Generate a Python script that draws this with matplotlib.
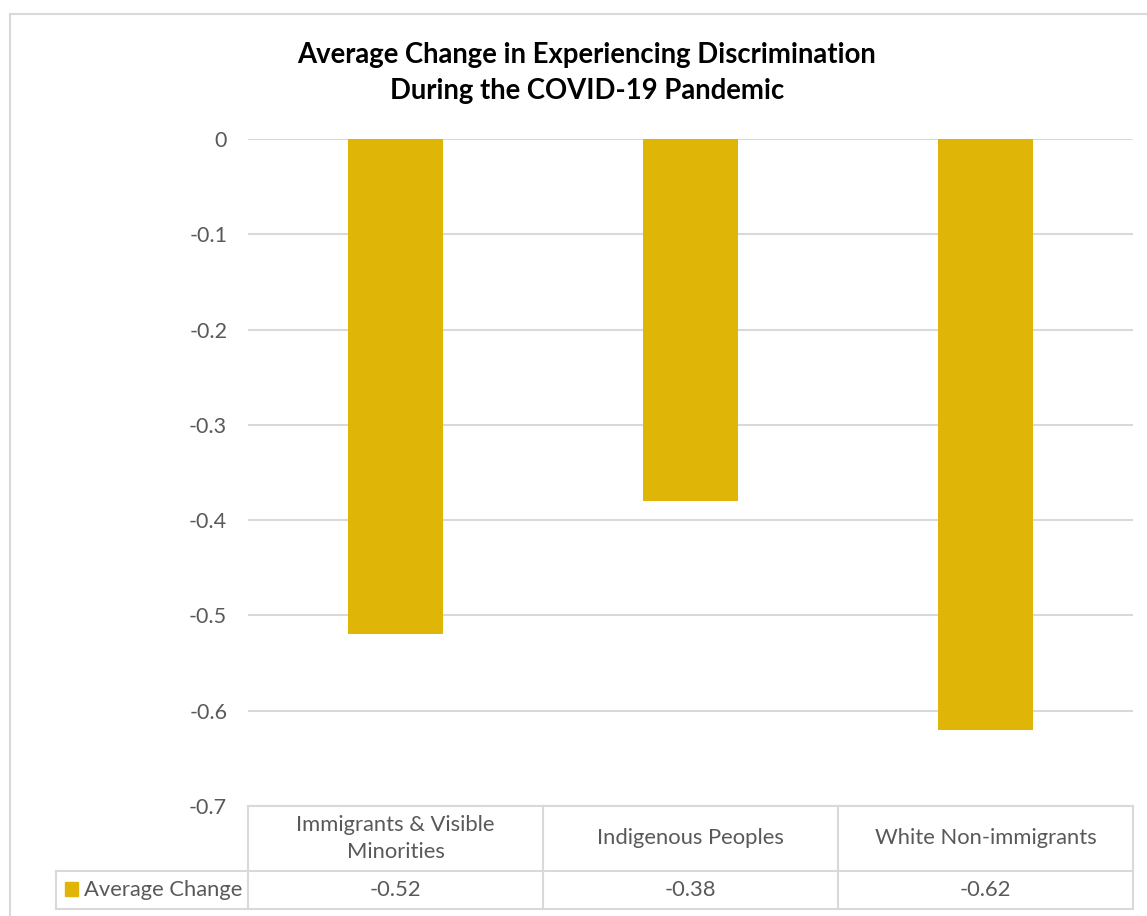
import matplotlib.pyplot as plt
from matplotlib.lines import Line2D
from matplotlib.patches import Rectangle

categories = ["Immigrants & Visible\nMinorities", "Indigenous Peoples", "White Non-immigrants"]
avg_change = [-0.52, -0.38, -0.62]
value_labels = ["-0.52", "-0.38", "-0.62"]
series_name = "Average Change"
y_ticks = [0, -0.1, -0.2, -0.3, -0.4, -0.5, -0.6, -0.7]
title = "Average Change in Experiencing Discrimination\nDuring the COVID-19 Pandemic"

BAR = "#DFB507"
GRID = "#D9D9D9"
TEXT = "#595959"
W, H = 1147, 916

plt.rcParams["font.family"] = ["Lato", "DejaVu Sans"]

fig = plt.figure(figsize=(W / 100, H / 100), dpi=100)


def fx(px):
    return px / W


def fy(py):
    return 1 - py / H


# chart frame (only left and top edges fall inside the canvas)
fig.add_artist(Line2D([fx(10), fx(10)], [fy(14), 0], color=GRID, lw=1.5))
fig.add_artist(Line2D([fx(10), 1], [fy(14), fy(14)], color=GRID, lw=1.5))

fig.text(fx(587), fy(73), title, ha="center", va="center",
         fontsize=19.8, fontweight="bold", color="black", linespacing=1.5)

# main bar axes
ax = fig.add_axes([fx(248), fy(806), fx(1133) - fx(248), fy(139) - fy(806)])
x = range(len(categories))
ax.bar(x, avg_change, width=0.32, color=BAR, zorder=3)
ax.set_xlim(-0.5, len(categories) - 0.5)
ax.set_ylim(-0.7, 0)
ax.set_yticks(y_ticks)
ax.set_yticklabels([f"{t:g}" for t in y_ticks])
ax.set_xticks([])
for s in ax.spines.values():
    s.set_visible(False)
ax.tick_params(axis="y", length=0, pad=15, labelsize=15.5, labelcolor=TEXT)
ax.yaxis.grid(True, color=GRID, lw=1.5, zorder=0)

# data table under the plot
tab = fig.add_axes([fx(248), fy(909), fx(1133) - fx(248), fy(806) - fy(909)])
tab.set_xlim(-0.5, len(categories) - 0.5)
tab.set_ylim(0, 103)
tab.axis("off")
label_left = (56 - 248) / 885
row_split = 38

line_kw = dict(color=GRID, lw=1.5, clip_on=False)
tab.plot([-0.5, len(categories) - 0.5], [103, 103], **line_kw)
for yy in (row_split, 0):
    tab.plot([label_left, 1], [yy, yy], transform=tab.get_yaxis_transform(), **line_kw)
for xx in [i - 0.5 for i in range(len(categories) + 1)]:
    tab.plot([xx, xx], [0, 103], **line_kw)
tab.plot([label_left, label_left], [0, row_split], transform=tab.get_yaxis_transform(), **line_kw)

for i, (cat, lab) in enumerate(zip(categories, value_labels)):
    tab.text(i, (103 + row_split) / 2, cat, ha="center", va="center",
             fontsize=15.8, color=TEXT, linespacing=1.45)
    tab.text(i, row_split / 2, lab, ha="center", va="center", fontsize=15.8, color=TEXT)

# series key in the label cell
fig.add_artist(Rectangle((fx(65), fy(896)), fx(13), fy(882) - fy(896), color=BAR))
fig.text(fx(84), fy(890), series_name, ha="left", va="center", fontsize=15.8, color=TEXT)

fig.savefig("out.png", dpi=100)
